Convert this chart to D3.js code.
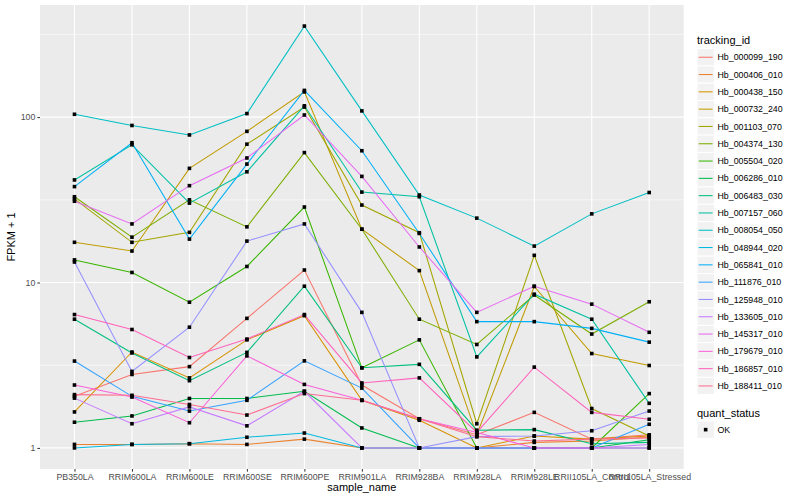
<!DOCTYPE html>
<html>
<head>
<meta charset="utf-8">
<script src="https://cdnjs.cloudflare.com/ajax/libs/d3/7.8.5/d3.min.js"></script>
<style>
  body { margin: 0; background: #fff; }
  text { font-family: "Liberation Sans", Arial, sans-serif; }
</style>
</head>
<body>
<div id="chart"></div>
<script>
// sample names (x axis)
var samples = ["PB350LA", "RRIM600LA", "RRIM600LE", "RRIM600SE", "RRIM600PE", "RRIM901LA",
    "RRIM928BA", "RRIM928LA", "RRIM928LE", "RRII105LA_Control", "RRII105LA_Stressed"];

// tracking ids (legend order)
var trackingIds = ["Hb_000099_190", "Hb_000406_010", "Hb_000438_150", "Hb_000732_240", "Hb_001103_070",
    "Hb_004374_130", "Hb_005504_020", "Hb_006286_010", "Hb_006483_030", "Hb_007157_060",
    "Hb_008054_050", "Hb_048944_020", "Hb_065841_010", "Hb_111876_010", "Hb_125948_010",
    "Hb_133605_010", "Hb_145317_010", "Hb_179679_010", "Hb_186857_010", "Hb_188411_010"];

// FPKM + 1 per gene, one value per sample
var fpkmPlus1 = [
    [2.05, 2.78, 3.1, 6.07, 11.9, 2.4, 1.5, 1.2, 1.64, 1.13, 1.2],      // 000099_190
    [1.05, 1.05, 1.06, 1.05, 1.13, 1.0, 1.0, 1.0, 1.08, 1.1, 1.16],     // 000406_010
    [1.65, 3.8, 2.65, 4.5, 6.3, 1.94, 1.47, 1.0, 1.18, 1.13, 1.18],     // 000438_150
    [17.5, 15.5, 49, 82, 142, 21, 11.8, 1.2, 9.46, 3.72, 3.15],         // 000732_240
    [32, 17.5, 20.1, 68.6, 115, 29.4, 20, 1.4, 14.6, 1.73, 1.18],       // 001103_070
    [33, 18.8, 31.6, 21.7, 61, 21, 6.0, 4.22, 8.4, 4.88, 7.65],         // 004374_130
    [13.7, 11.5, 7.6, 12.5, 28.6, 3.05, 4.5, 1.0, 1.0, 1.0, 2.13],      // 005504_020
    [1.43, 1.56, 1.99, 1.99, 2.2, 1.32, 1.0, 1.0, 1.0, 1.0, 1.12],      // 006286_010
    [6.0, 3.75, 2.55, 3.78, 9.5, 3.05, 3.2, 1.28, 1.29, 1.06, 1.08],    // 006483_030
    [41.7, 68, 30.2, 46.7, 117, 35.2, 33, 3.55, 8.5, 6.0, 1.86],        // 007157_060
    [104, 89, 78, 105, 355, 109, 33.8, 24.5, 16.6, 26, 35],             // 008054_050
    [1.0, 1.05, 1.06, 1.16, 1.23, 1.0, 1.0, 1.0, 1.0, 1.0, 1.0],        // 048944_020
    [38, 70, 18.3, 52, 145, 62.6, 19.8, 5.8, 5.8, 5.28, 4.36],          // 065841_010
    [3.35, 2.05, 1.67, 1.94, 3.36, 2.3, 1.0, 1.0, 1.0, 1.0, 1.39],      // 111876_010
    [13.3, 2.9, 5.37, 17.8, 22.6, 6.6, 1.0, 1.17, 1.18, 1.27, 1.67],    // 125948_010
    [2.0, 1.4, 1.77, 1.36, 2.2, 1.0, 1.0, 1.0, 1.0, 1.0, 1.05],         // 133605_010
    [31, 22.6, 38.5, 56.6, 103, 43.8, 16.4, 6.6, 9.5, 7.4, 5.0],        // 145317_010
    [2.4, 2.03, 1.42, 3.6, 2.42, 1.94, 1.5, 1.24, 1.0, 1.0, 1.0],       // 179679_010
    [6.4, 5.2, 3.52, 4.55, 6.4, 2.47, 2.65, 1.24, 3.08, 1.64, 1.49],    // 186857_010
    [2.1, 2.08, 1.83, 1.58, 2.13, 1.94, 1.5, 1.17, 1.1, 1.13, 1.15]     // 188411_010
];

// ggplot default hue palette for 20 levels
var hueColors = ["#F8766D", "#EA8331", "#D89000", "#C09B00", "#A3A500", "#7CAE00", "#39B600",
    "#00BB4E", "#00BF7D", "#00C1A3", "#00BFC4", "#00BAE0", "#00B0F6", "#35A2FF", "#9590FF",
    "#C77CFF", "#E76BF3", "#FA62DB", "#FF62BC", "#FF6C91"];

var yTicks = [1, 10, 100];
var yMinor = [Math.sqrt(10), Math.sqrt(1000), Math.sqrt(100000)];

var W = 800, H = 500;
var panel = {left: 40, top: 5, right: 683.7, bottom: 469};

var svg = d3.select("#chart").append("svg")
    .attr("width", W)
    .attr("height", H);

// Scales
var x = d3.scalePoint()
    .domain(samples)
    .range([panel.left, panel.right])
    .padding(0.6);

var allVals = d3.merge(fpkmPlus1);
var logExt = d3.extent(allVals).map(Math.log10);
var pad = (logExt[1] - logExt[0]) * 0.05;
var y = d3.scaleLog()
    .domain([Math.pow(10, logExt[0] - pad), Math.pow(10, logExt[1] + pad)])
    .range([panel.bottom, panel.top]);

// Panel background + grid
svg.append("rect")
    .attr("x", panel.left).attr("y", panel.top)
    .attr("width", panel.right - panel.left)
    .attr("height", panel.bottom - panel.top)
    .attr("fill", "#EBEBEB");

svg.selectAll(".grid-minor")
    .data(yMinor.filter(function (d) { return y(d) > panel.top; }))
    .enter().append("line")
    .attr("class", "grid-minor")
    .attr("x1", panel.left).attr("x2", panel.right)
    .attr("y1", function (d) { return y(d); })
    .attr("y2", function (d) { return y(d); })
    .attr("stroke", "#fff").attr("stroke-width", 0.55);

svg.selectAll(".grid-y")
    .data(yTicks)
    .enter().append("line")
    .attr("class", "grid-y")
    .attr("x1", panel.left).attr("x2", panel.right)
    .attr("y1", function (d) { return y(d); })
    .attr("y2", function (d) { return y(d); })
    .attr("stroke", "#fff").attr("stroke-width", 1.1);

svg.selectAll(".grid-x")
    .data(samples)
    .enter().append("line")
    .attr("class", "grid-x")
    .attr("x1", function (d) { return x(d); })
    .attr("x2", function (d) { return x(d); })
    .attr("y1", panel.top).attr("y2", panel.bottom)
    .attr("stroke", "#fff").attr("stroke-width", 1.1);

// Axes
var xAxis = svg.append("g")
    .attr("transform", "translate(0," + panel.bottom + ")")
    .call(d3.axisBottom(x).tickSize(2.7).tickPadding(2));
var yAxis = svg.append("g")
    .attr("transform", "translate(" + panel.left + ",0)")
    .call(d3.axisLeft(y).tickValues(yTicks).tickFormat(d3.format("d")).tickSize(2.7).tickPadding(2));

[xAxis, yAxis].forEach(function (g) {
    g.select(".domain").remove();
    g.selectAll(".tick line").attr("stroke", "#333333").attr("stroke-width", 1);
    g.selectAll(".tick text")
        .attr("fill", "#4D4D4D")
        .style("font-size", "8.8px")
        .style("font-family", "'Liberation Sans', Arial, sans-serif");
});

// Lines
var line = d3.line()
    .x(function (d, i) { return x(samples[i]); })
    .y(function (d) { return y(d); });

svg.selectAll(".gene-line")
    .data(fpkmPlus1)
    .enter().append("path")
    .attr("class", "gene-line")
    .attr("d", line)
    .attr("fill", "none")
    .attr("stroke", function (d, i) { return hueColors[i]; })
    .attr("stroke-width", 1.05);

// Points (quant_status OK)
var pts = [];
fpkmPlus1.forEach(function (row) {
    row.forEach(function (v, j) { pts.push({s: samples[j], v: v}); });
});
svg.selectAll(".pt")
    .data(pts)
    .enter().append("rect")
    .attr("class", "pt")
    .attr("x", function (d) { return x(d.s) - 1.8; })
    .attr("y", function (d) { return y(d.v) - 1.8; })
    .attr("width", 3.6).attr("height", 3.6)
    .attr("fill", "#000");

// Axis titles
svg.append("text")
    .attr("x", (panel.left + panel.right) / 2)
    .attr("y", 491)
    .attr("text-anchor", "middle")
    .style("font-size", "11px")
    .text("sample_name");

svg.append("text")
    .attr("transform", "translate(15," + ((panel.top + panel.bottom) / 2) + ") rotate(-90)")
    .attr("text-anchor", "middle")
    .style("font-size", "11px")
    .text("FPKM + 1");

// Legend: tracking_id
var lg = svg.append("g").attr("transform", "translate(697,0)");
lg.append("text")
    .attr("x", 0).attr("y", 44)
    .style("font-size", "11px")
    .text("tracking_id");

var keyH = 17.3, keyTop = 48.6;
var keys = lg.selectAll(".key")
    .data(trackingIds)
    .enter().append("g")
    .attr("class", "key")
    .attr("transform", function (d, i) { return "translate(0," + (keyTop + i * keyH) + ")"; });
keys.append("rect")
    .attr("width", 17.3).attr("height", keyH)
    .attr("fill", "#F2F2F2").attr("stroke", "#fff").attr("stroke-width", 1);
keys.append("line")
    .attr("x1", 1.7).attr("x2", 15.6)
    .attr("y1", keyH / 2).attr("y2", keyH / 2)
    .attr("stroke", function (d, i) { return hueColors[i]; })
    .attr("stroke-width", 1.05);
keys.append("text")
    .attr("x", 20.5).attr("y", keyH / 2)
    .attr("dy", "0.35em")
    .style("font-size", "8.8px")
    .attr("fill", "#000")
    .text(function (d) { return d; });

// Legend: quant_status
lg.append("text")
    .attr("x", 0).attr("y", 417)
    .style("font-size", "11px")
    .text("quant_status");
var ok = lg.append("g").attr("transform", "translate(0,421)");
ok.append("rect")
    .attr("width", 17.3).attr("height", keyH)
    .attr("fill", "#F2F2F2").attr("stroke", "#fff");
ok.append("rect")
    .attr("x", 8.65 - 1.8).attr("y", keyH / 2 - 1.8)
    .attr("width", 3.6).attr("height", 3.6)
    .attr("fill", "#000");
ok.append("text")
    .attr("x", 20.5).attr("y", keyH / 2)
    .attr("dy", "0.35em")
    .style("font-size", "8.8px")
    .text("OK");
</script>
</body>
</html>
